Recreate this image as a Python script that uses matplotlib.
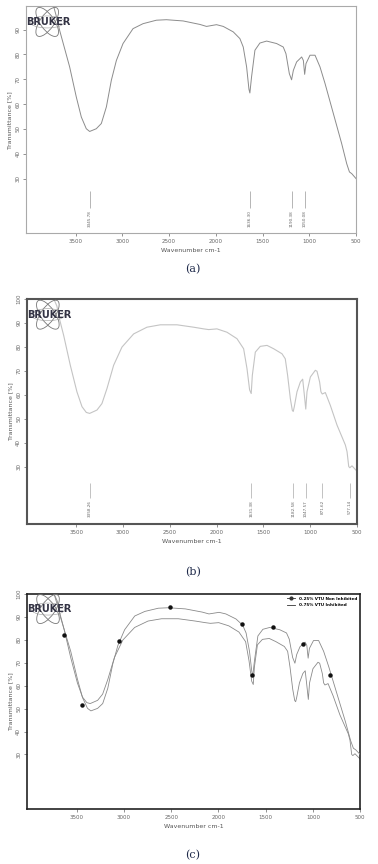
import matplotlib.pyplot as plt
from matplotlib.patches import Ellipse
from matplotlib.transforms import ScaledTranslation

# spectrum (a) - 0.25% VTU non inhibited
wn_a = [3740, 3700, 3671, 3564, 3493, 3439, 3386, 3350, 3279, 3225, 3171, 3118, 3064,
        2993, 2886, 2779, 2636, 2529, 2350, 2171, 2100, 1993, 1921, 1814, 1743, 1707,
        1671, 1646, 1636, 1618, 1582, 1529, 1457, 1350, 1279, 1250, 1214, 1190, 1171,
        1136, 1082, 1064, 1050, 1036, 993, 939, 886, 832, 743, 654, 600, 571, 546, 500]
t_a = [100, 94.5, 89.7, 75.0, 62.9, 54.8, 50.1, 49.0, 50.1, 52.2, 58.9, 69.6, 77.6,
       84.4, 90.4, 92.4, 93.8, 94.0, 93.5, 92.1, 91.3, 92.0, 91.3, 89.1, 86.4, 83.0,
       75.0, 66.0, 64.5, 71.0, 81.7, 84.6, 85.4, 84.4, 83.0, 80.3, 72.3, 69.8, 73.6,
       77.0, 79.0, 77.6, 72.0, 76.3, 79.7, 79.7, 75.0, 68.3, 56.2, 44.1, 36.0, 32.7, 32.0, 30.0]
peaks_a = [3345.78, 1636.30, 1190.38, 1050.08]

# spectrum (b) - 0.75% VTU inhibited
wn_b = [3740, 3707, 3689, 3635, 3564, 3493, 3439, 3393, 3357, 3279, 3226, 3172, 3101,
        3012, 2887, 2745, 2602, 2424, 2246, 2139, 2085, 1997, 1890, 1783, 1712, 1676,
        1648, 1631, 1619, 1587, 1534, 1462, 1391, 1302, 1267, 1242, 1213, 1192, 1182,
        1171, 1142, 1106, 1081, 1063, 1048, 1035, 999, 946, 928, 900, 886, 872, 839,
        786, 714, 625, 607, 589, 577, 554, 500]
t_b = [100, 97.0, 93.1, 84.8, 72.3, 61.2, 55.0, 52.6, 52.2, 53.6, 56.3, 62.6, 72.3,
       79.9, 85.4, 88.2, 89.2, 89.2, 88.2, 87.5, 87.2, 87.5, 86.1, 83.4, 79.2, 70.9,
       62.0, 60.5, 68.1, 77.8, 80.2, 80.6, 79.2, 77.1, 75.0, 68.1, 58.4, 53.5, 53.0,
       54.9, 61.2, 65.3, 66.5, 59.8, 54.0, 61.2, 67.4, 70.2, 69.8, 65.3, 61.2, 60.3, 60.9,
       55.6, 47.3, 39.0, 36.2, 30.0, 29.5, 30.3, 28.0]
peaks_b = [3358.26, 1631.38, 1182.58, 1047.57, 871.62, 577.14]

# marker points in (c)
mk_wn = [3631, 3447, 3055, 2512, 1746, 1640, 1418, 1100, 814]
mk_t = [82.2, 51.7, 79.6, 94.5, 87.1, 64.5, 85.4, 78.0, 64.5]

labels_c = ['0.25% VTU Non Inhibited', '0.75% VTU Inhibited']

fig = plt.figure(figsize=(3.78, 8.64), dpi=100)

tick_col = '#666666'


def draw_logo(ax):
    # little atom + BRUKER word, sized in inches so it is not squashed
    tr = fig.dpi_scale_trans + ScaledTranslation(0.064, 0.93, ax.transAxes)
    for ang in (55, -55):
        ax.add_patch(Ellipse((0, 0), 0.34, 0.14, angle=ang, fill=False, clip_on=False,
                             ec='#777777', lw=0.6, transform=tr, zorder=4))
    ax.add_patch(Ellipse((0, 0), 0.34, 0.12, angle=0, fill=False, clip_on=False,
                         ec='#999999', lw=0.4, transform=tr, zorder=4))
    ax.text(0.068, 0.93, 'BRUKER', transform=ax.transAxes, fontsize=7,
            fontweight='bold', color='#333344', ha='center', va='center', zorder=5)


def style_axes(ax, ylim, yticks, spine_col, spine_w):
    ax.set_xlim(4030, 500)
    ax.set_ylim(ylim)
    ax.set_xticks([3500, 3000, 2500, 2000, 1500, 1000, 500])
    ax.set_yticks(yticks)
    ax.tick_params(labelsize=4, colors=tick_col, length=2, width=0.5, pad=2)
    for lab in ax.get_yticklabels():
        lab.set_rotation(90)
        lab.set_va('center')
    for s in ax.spines.values():
        s.set_color(spine_col)
        s.set_linewidth(spine_w)
    ax.set_xlabel('Wavenumber cm-1', fontsize=4.5, color='#555555', labelpad=3)
    ax.set_ylabel('Transmittance [%]', fontsize=4.5, color='#555555', labelpad=2)
    draw_logo(ax)


def peak_labels(ax, peaks, y_top, y_bot, col):
    for p in peaks:
        ax.vlines(p, y_bot, y_top, color=col, lw=0.5)
        ax.text(p, y_bot - 0.8, '%.2f' % p, rotation=90, ha='center', va='top',
                fontsize=3, color='#666666')


# (a)
ax1 = fig.add_axes([0.069, 0.730, 0.873, 0.263])
ax1.plot(wn_a, t_a, color='#8c8c8c', lw=0.7)
style_axes(ax1, (8, 99.5), [30, 40, 50, 60, 70, 80, 90], '#aaaaaa', 0.8)
peak_labels(ax1, peaks_a, 24.9, 18.0, '#999999')
fig.text(0.51, 0.688, '(a)', fontsize=8, family='DejaVu Serif', color='#1f2a4a',
         ha='center', va='center')

# (b)
ax2 = fig.add_axes([0.0706, 0.3935, 0.874, 0.2605])
ax2.plot(wn_b, t_b, color='#c4c4c4', lw=0.8)
style_axes(ax2, (6, 100), [30, 40, 50, 60, 70, 80, 90, 100], '#555555', 1.5)
peak_labels(ax2, peaks_b, 23.1, 16.8, '#aaaaaa')
fig.text(0.51, 0.338, '(b)', fontsize=8, family='DejaVu Serif', color='#1f2a4a',
         ha='center', va='center')

# (c)
ax3 = fig.add_axes([0.0706, 0.0637, 0.882, 0.2488])
ax3.plot(wn_a, t_a, color='#8a8a8a', lw=0.6, zorder=3)
ax3.plot(mk_wn, mk_t, 'o', color='#111111', markersize=2.2, zorder=4)
ax3.plot(wn_b, t_b, color='#8a8a8a', lw=0.6)
style_axes(ax3, (6.2, 100), [30, 40, 50, 60, 70, 80, 90, 100], '#222222', 1.2)
h1, = ax3.plot([], [], color='#333333', lw=0.6, marker='o', markersize=2)
h2, = ax3.plot([], [], color='#333333', lw=0.6)
ax3.legend([h1, h2], labels_c, loc='upper right', frameon=False, handlelength=2,
           borderaxespad=0.3, prop={'weight': 'bold', 'size': 3})
fig.text(0.51, 0.0104, '(c)', fontsize=8, family='DejaVu Serif', color='#1f2a4a',
         ha='center', va='center')

plt.savefig('out.png', dpi=100)
